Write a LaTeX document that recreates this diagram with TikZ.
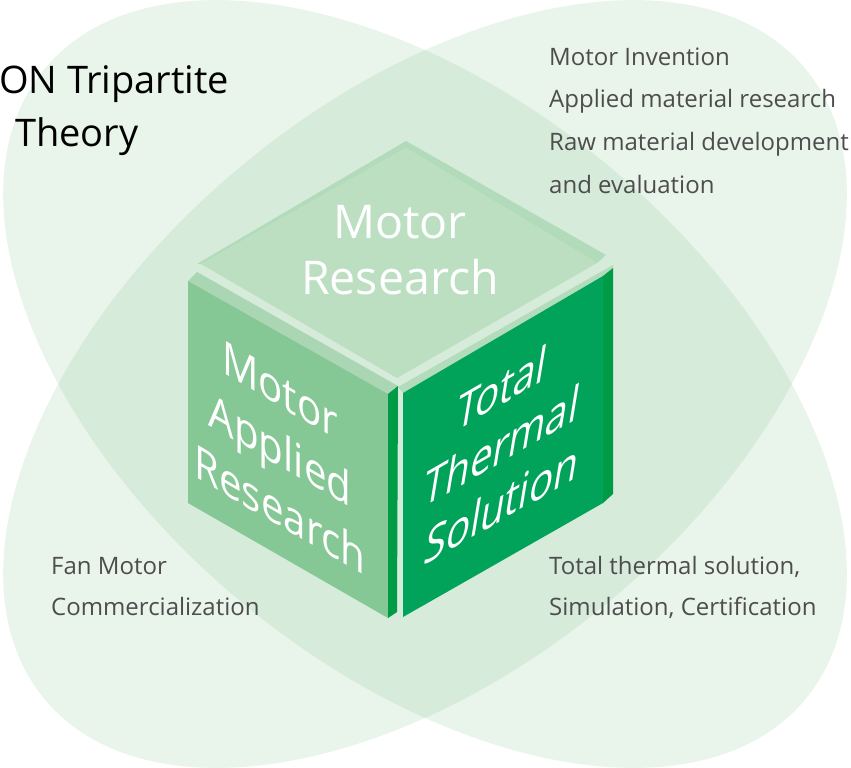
\documentclass[tikz,border=0pt]{standalone}
\usepackage{fontspec}
\setmainfont{Open Sans}
\newfontfamily\slantfont[FakeSlant=0.21]{Open Sans}
\definecolor{bgA}{RGB}{233,244,234}
\definecolor{bgB}{RGB}{214,235,217}
\definecolor{topface}{RGB}{188,223,194}
\definecolor{topbevel}{RGB}{178,219,187}
\definecolor{leftface}{RGB}{134,199,150}
\definecolor{slabtop}{RGB}{170,214,180}
\definecolor{rightstrip}{RGB}{178,220,188}
\definecolor{darkstrip}{RGB}{0,155,70}
\definecolor{rightface}{RGB}{0,163,89}
\definecolor{txtgray}{RGB}{77,77,77}
\begin{document}
\begin{tikzpicture}[x=1pt,y=-1pt,
  note/.style={anchor=base west, text=txtgray, font=\fontsize{24}{28}\selectfont, inner sep=0pt},
  titletext/.style={anchor=base west, text=black, font=\fontsize{38}{44}\selectfont, inner sep=0pt},
  toptext/.style={anchor=base, text=white, font=\fontsize{46.5}{56}\selectfont, inner sep=0pt},
  facetext/.style={text=white, align=center, inner sep=0pt, transform shape}]
\useasboundingbox (0,0) rectangle (851,768);
% background ellipses
\fill[bgA, rotate around={-39.6:(425,384)}] (425,384) ellipse [x radius=494pt, y radius=285pt];
\fill[bgA, rotate around={39.6:(425,384)}] (425,384) ellipse [x radius=494pt, y radius=285pt];
\begin{scope}
  \clip[rotate around={-39.6:(425,384)}] (425,384) ellipse [x radius=494pt, y radius=285pt];
  \fill[bgB, rotate around={39.6:(425,384)}] (425,384) ellipse [x radius=494pt, y radius=285pt];
\end{scope}
% cube: top face
\fill[topbevel] (197,264) -- (406,141) -- (606,255) -- (597,263) -- (406,148) -- (201,264) -- cycle;
\fill[topface] (406,148) -- (597,263) -- (397,378) -- (201,264) -- cycle;
% left slab
\fill[slabtop] (188,281) -- (197,272) -- (398,386) -- (388,394) -- cycle;
\fill[leftface] (188,281) -- (388,394) -- (388,618) -- (188,503) -- cycle;
\fill[darkstrip] (388,394) -- (398,386) -- (397,612) -- (388,618) -- cycle;
% right slab
\fill[rightstrip] (398,387) -- (613,265) -- (613,268) -- (603,276) -- (403,393) -- cycle;
\fill[rightface] (403,393) -- (603,276) -- (603,503) -- (403,617) -- cycle;
\fill[darkstrip] (603,276) -- (613,268) -- (613,494) -- (603,503) -- cycle;
% top face text
\node[toptext] (mr1) at (400,238) {Motor};
\node[toptext] (mr2) at (400,294) {Research};
% left face text
\begin{scope}[shift={(280,450)}]
  \node[facetext, font=\fontsize{46.5}{60}\selectfont, cm={0.866,-0.5,0,1,(0,0)}] (mar) at (0,0) {Motor\\Applied\\Research};
\end{scope}
% right face text
\begin{scope}[shift={(499,447)}]
  \node[facetext, font=\slantfont\fontsize{46}{58}\selectfont, cm={0.866,0.5,0,1,(0,0)}] (tts) at (0,0) {Total\\Thermal\\Solution};
\end{scope}
% title
\node[titletext] (title1) at (-1,93) {ON Tripartite};
\node[titletext] (title2) at (15,146) {Theory};
% notes
\node[note] (inv1) at (549,66) {Motor Invention};
\node[note] (inv2) at (549,107) {Applied material research};
\node[note] (inv3) at (549,150) {Raw material development};
\node[note] (inv4) at (549,193) {and evaluation};
\node[note] (fan1) at (51,574) {Fan Motor};
\node[note] (fan2) at (51,615) {Commercialization};
\node[note] (sol1) at (549,574) {Total thermal solution,};
\node[note] (sol2) at (549,615) {Simulation, Certification};
\end{tikzpicture}
\end{document}
